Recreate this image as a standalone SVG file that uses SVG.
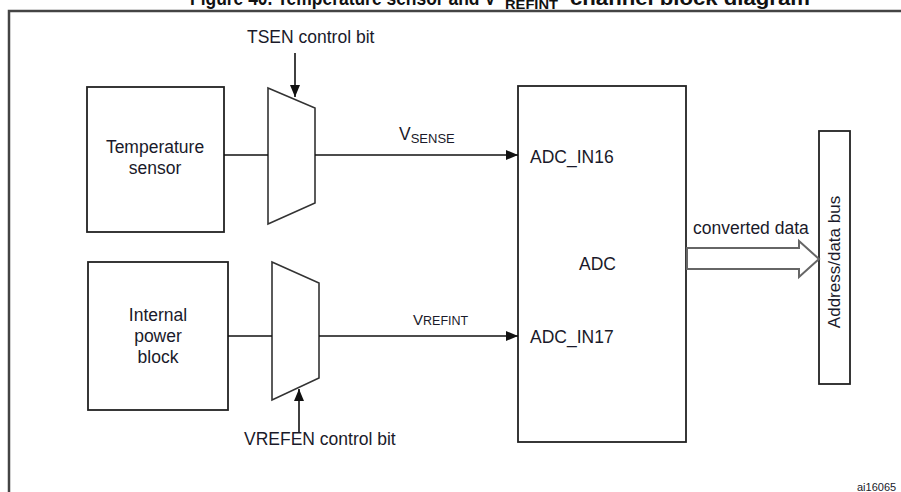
<svg xmlns="http://www.w3.org/2000/svg" width="901" height="492" viewBox="0 0 901 492">
<style>
  text { font-family: "Liberation Sans", Arial, sans-serif; fill: #1a1a2a; }
  .lbl { font-size: 17.5px; }
  .box { fill: #fff; stroke: #222; stroke-width: 1.8; }
  .mux { fill: #fff; stroke: #333; stroke-width: 1.6; }
  .wire { fill: none; stroke: #111; stroke-width: 1.6; }
  .title { font-weight: bold; font-size: 20px; fill: #111; }
</style>
<defs>
  <marker id="arr" viewBox="0 0 12 10" refX="12" refY="5" markerWidth="12" markerHeight="10" markerUnits="userSpaceOnUse" orient="auto">
    <path d="M0,0 L12,5 L0,10 Z" fill="#111"/>
  </marker>
</defs>
<rect width="901" height="492" fill="#fff"/>

<!-- title (cut off at top) -->
<g id="title">
  <text class="title" x="190" y="5" textLength="306" lengthAdjust="spacingAndGlyphs">Figure 40. Temperature sensor and V</text>
  <text class="title" x="505" y="9" style="font-size:13px" textLength="53" lengthAdjust="spacingAndGlyphs">REFINT</text>
  <text class="title" x="570" y="5" textLength="240" lengthAdjust="spacingAndGlyphs">channel block diagram</text>
</g>

<!-- frame -->
<rect id="frame" x="9" y="11" width="920" height="520" fill="none" stroke="#444" stroke-width="2.5"/>

<g id="temp-sensor">
  <rect class="box" x="87" y="87" width="137" height="145"/>
  <text class="lbl" x="155" y="153" text-anchor="middle">Temperature</text>
  <text class="lbl" x="155" y="174" text-anchor="middle">sensor</text>
</g>

<g id="power-block">
  <rect class="box" x="88" y="262" width="140" height="148"/>
  <text class="lbl" x="158" y="321" text-anchor="middle">Internal</text>
  <text class="lbl" x="158" y="342" text-anchor="middle">power</text>
  <text class="lbl" x="158" y="363" text-anchor="middle">block</text>
</g>

<g id="mux1">
  <polygon class="mux" points="268,88 315,108 315,203 268,224"/>
</g>

<g id="mux2">
  <polygon class="mux" points="272,262 319,283 319,378 272,400"/>
</g>

<g id="adc">
  <rect class="box" x="518" y="86" width="168" height="356"/>
  <text class="lbl" x="530" y="163">ADC_IN16</text>
  <text class="lbl" x="530" y="343">ADC_IN17</text>
  <text class="lbl" x="579" y="270">ADC</text>
</g>

<g id="bus">
  <rect class="box" x="819" y="131" width="31" height="253"/>
  <text class="lbl" style="font-size:17px" text-anchor="middle" transform="translate(840,262) rotate(-90)">Address/data bus</text>
</g>

<g id="labels">
  <text class="lbl" x="247" y="43">TSEN control bit</text>
  <text class="lbl" x="244" y="445">VREFEN control bit</text>
  <text class="lbl" x="399" y="140">V<tspan style="font-size:13px" dy="3">SENSE</tspan></text>
  <text class="lbl" x="413" y="325" style="font-size:15px">V<tspan style="font-size:12.5px">REFINT</tspan></text>
  <text class="lbl" x="693" y="234">converted data</text>
  <text x="857" y="491" style="font-size:11px" fill="#444">ai16065</text>
</g>

<g id="connectors">
  <line class="wire" x1="224" y1="155" x2="268" y2="155"/>
  <line class="wire" x1="315" y1="155" x2="518" y2="155" marker-end="url(#arr)"/>
  <line class="wire" x1="228" y1="336" x2="272" y2="336"/>
  <line class="wire" x1="319" y1="336" x2="518" y2="336" marker-end="url(#arr)"/>
  <line class="wire" x1="295" y1="53" x2="295" y2="97" marker-end="url(#arr)"/>
  <line class="wire" x1="299" y1="432" x2="299" y2="389" marker-end="url(#arr)"/>
  <polygon points="687,248 799,248 799,241 819,259 799,277 799,269 687,269" fill="#fff" stroke="#666" stroke-width="2"/>
</g>
</svg>
